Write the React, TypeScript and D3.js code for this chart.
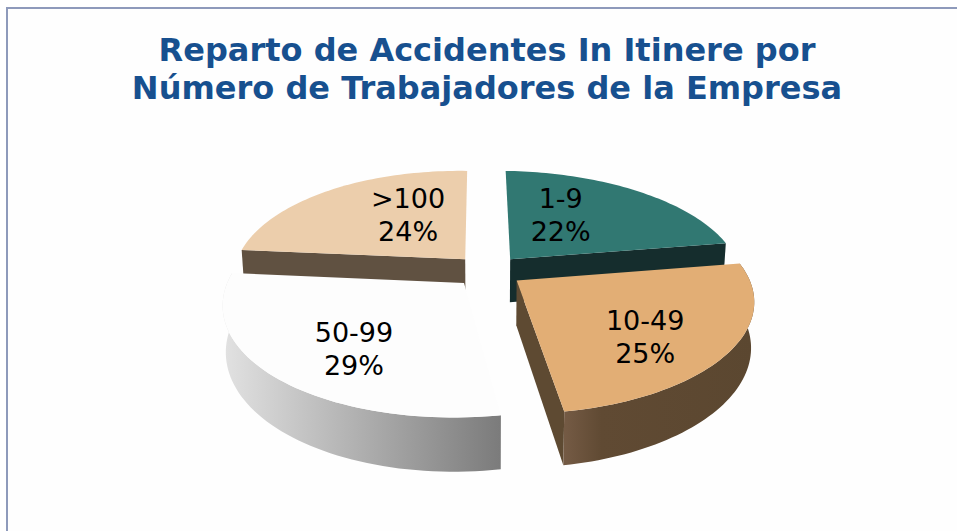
import React from 'react';
import * as d3 from 'd3';

const categories = ['1-9', '10-49', '50-99', '>100'];
const percents = [22, 25, 29, 24];
const titleLines = ['Reparto de Accidentes In Itinere por', 'Número de Trabajadores de la Empresa'];

const topColors = ['#317872', '#e2ae75', '#fdfdfd', '#ecceac'];
const wallColors = ['#152d2d', '#5e4a32', '#6f6f6f', '#605141'];

// label nudges in screen px, relative to the projected point at labelRadius
const labelNudges = [[-35, -5], [-5, 5], [7, 1], [34, -5]];

const width = 957;
const height = 531;
const cx = 488;
const cy = 271;
const scaleX = 231;
const scaleY = 107;
const skew = -5;
const bend = 4.5;
const tilt = 3;
const perspective = 0.17;
const depth = 44;
const explode = 0.15;
const labelRadius = 0.65;

// unit circle on the table -> screen, with the front of the pie nearer the viewer
const project = (u: number, v: number) => {
  const w = 1 - perspective * v;
  return {
    x: cx + (scaleX * u + skew * v) / w - bend * v * v,
    y: cy + (scaleY * v + tilt * u) / w,
    w,
  };
};

const top = (u: number, v: number): [number, number] => {
  const p = project(u, v);
  return [p.x, p.y];
};

const bottom = (u: number, v: number): [number, number] => {
  const p = project(u, v);
  return [p.x + (cx - p.x) * 0.012, p.y + depth / p.w];
};

const line = d3.line();

const App = () => {
  const arcs = d3.pie<number>().sort(null)(percents);

  const slices = arcs.map((arc, i) => {
    const mid = (arc.startAngle + arc.endAngle) / 2;
    const ox = explode * Math.sin(mid);
    const oy = -explode * Math.cos(mid);
    const rim = d3.range(0, 61).map((k) => {
      const a = arc.startAngle + ((arc.endAngle - arc.startAngle) * k) / 60;
      return [ox + Math.sin(a), oy - Math.cos(a)];
    });
    const first = rim[0];
    const last = rim[rim.length - 1];
    const face = [top(ox, oy), ...rim.map((p) => top(p[0], p[1]))];
    const rimWall = [
      ...rim.map((p) => top(p[0], p[1])),
      ...rim.slice().reverse().map((p) => bottom(p[0], p[1])),
    ];
    const startWall = [top(ox, oy), top(first[0], first[1]), bottom(first[0], first[1]), bottom(ox, oy)];
    const endWall = [top(ox, oy), top(last[0], last[1]), bottom(last[0], last[1]), bottom(ox, oy)];
    const labelPoint = project(
      ox + labelRadius * Math.sin(mid),
      oy - labelRadius * Math.cos(mid)
    );
    return {
      i,
      face,
      rimWall,
      startWall,
      endWall,
      lx: labelPoint.x + labelNudges[i][0],
      ly: labelPoint.y + labelNudges[i][1],
    };
  });

  // back slices first so the front ones cover them
  const drawOrder = [0, 3, 2, 1];

  return (
    <svg
      width={width}
      height={height}
      style={{ position: 'absolute', left: 0, top: 0, background: '#ffffff' }}
    >
      <defs>
        <linearGradient id="rim-1" x1="0" x2="1" y1="0" y2="0">
          <stop offset="0" stopColor="#755b45" />
          <stop offset="0.2" stopColor="#604a33" />
          <stop offset="1" stopColor="#5b4730" />
        </linearGradient>
        <linearGradient id="rim-2" x1="0" x2="1" y1="0" y2="0">
          <stop offset="0" stopColor="#e2e2e2" />
          <stop offset="1" stopColor="#7b7b7b" />
        </linearGradient>
      </defs>
      <rect x={7} y={8} width={width} height={height} fill="#fefefe" stroke="#8e9abb" strokeWidth={2} />
      {titleLines.map((t, i) => (
        <text
          key={t}
          x={487}
          y={61 + i * 38}
          textAnchor="middle"
          fontFamily="'DejaVu Sans', Verdana, sans-serif"
          fontWeight="bold"
          fontSize={32}
          fill="#17508f"
        >
          {t}
        </text>
      ))}
      {drawOrder.map((idx) => {
        const s = slices[idx];
        return (
          <g key={categories[idx]}>
            {/* only the walls that face the viewer, hidden ones leave hairlines */}
            {idx === 3 && <path d={line(s.startWall) + 'Z'} fill={wallColors[idx]} />}
            {idx < 2 && <path d={line(s.endWall) + 'Z'} fill={wallColors[idx]} />}
            {(idx === 1 || idx === 2) && <path d={line(s.rimWall) + 'Z'} fill={`url(#rim-${idx})`} />}
            <path d={line(s.face) + 'Z'} fill={topColors[idx]} />
          </g>
        );
      })}
      {slices.map((s) => (
        <text
          key={categories[s.i]}
          textAnchor="middle"
          fontFamily="'DejaVu Sans', Verdana, sans-serif"
          fontSize={27}
          fill="#000000"
        >
          <tspan x={s.lx} y={s.ly}>{categories[s.i]}</tspan>
          <tspan x={s.lx} y={s.ly + 33}>{percents[s.i]}%</tspan>
        </text>
      ))}
    </svg>
  );
};

export default App;
